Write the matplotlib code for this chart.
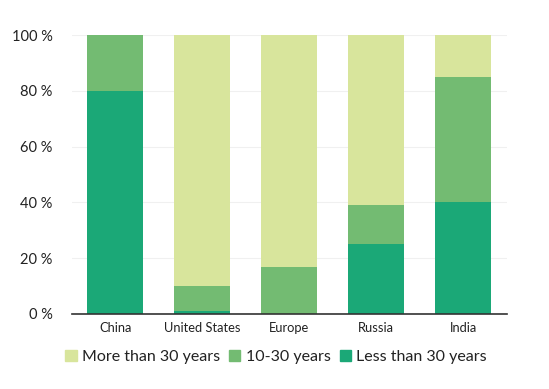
import matplotlib
matplotlib.use("Agg")
import matplotlib.pyplot as plt
from matplotlib.patches import Patch

plt.rcParams["font.family"] = ["Lato", "DejaVu Sans"]

regions = ["China", "United States", "Europe", "Russia", "India"]
less_30 = [80, 1, 0, 25, 40]
mid_10_30 = [20, 9, 17, 14, 45]
more_30 = [0, 90, 83, 61, 15]
y_ticks = [0, 20, 40, 60, 80, 100]

c_less = "#1ba877"
c_mid = "#73bb72"
c_more = "#d8e59c"

fig = plt.figure(figsize=(5.49, 3.89), dpi=100)
ax = fig.add_axes([0.131, 0.193, 0.792, 0.717])

x = range(len(regions))
width = 0.645
ax.bar(x, less_30, width, color=c_less, zorder=2)
ax.bar(x, mid_10_30, width, bottom=less_30, color=c_mid, zorder=2)
bottom3 = [a + b for a, b in zip(less_30, mid_10_30)]
ax.bar(x, more_30, width, bottom=bottom3, color=c_more, zorder=2)

ax.set_xlim(-0.5, len(regions) - 0.5)
ax.set_ylim(0, 100)
ax.set_yticks(y_ticks)
ax.set_yticklabels([f"{v} %" for v in y_ticks], fontsize=10.5, color="#222222")
ax.set_xticks(list(x))
ax.set_xticklabels(regions, fontsize=9.3, color="#222222")
ax.yaxis.grid(True, color="#f0f0f0", linewidth=0.8, zorder=0)
ax.tick_params(axis="both", length=0)
ax.tick_params(axis="y", pad=14)
ax.tick_params(axis="x", pad=6)
for side in ["top", "right", "left"]:
    ax.spines[side].set_visible(False)
ax.spines["bottom"].set_color("#333333")
ax.spines["bottom"].set_linewidth(1.2)
ax.spines["bottom"].set_zorder(3)

handles = [
    Patch(color=c_more, label="More than 30 years"),
    Patch(color=c_mid, label="10-30 years"),
    Patch(color=c_less, label="Less than 30 years"),
]
fig.legend(handles=handles, loc="center", bbox_to_anchor=(0.503, 0.082), ncol=3,
           frameon=False, fontsize=11.5, handlelength=0.7, handleheight=0.7,
           handletextpad=0.35, columnspacing=0.55, labelcolor="#222222")

fig.savefig("out.png", dpi=100)
